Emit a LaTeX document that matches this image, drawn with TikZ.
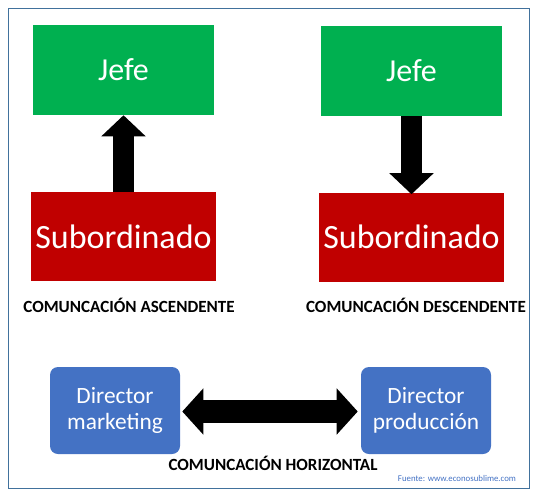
\documentclass[tikz,border=0pt]{standalone}
\usepackage{fontspec}
\setmainfont{Carlito}
\usetikzlibrary{arrows.meta}
\definecolor{jefegreen}{HTML}{00B050}
\definecolor{subred}{HTML}{C00000}
\definecolor{dirblue}{HTML}{4472C4}
\definecolor{framecol}{HTML}{41719C}
\newdimen\pxu \pxu=0.75pt

\begin{document}
\begin{tikzpicture}[x=0.75pt,y=-0.75pt,
  jefebox/.style={fill=jefegreen,text=white,minimum width=181\pxu,minimum height=90\pxu,font=\fontsize{24}{28}\selectfont},
  subbox/.style={fill=subred,text=white,minimum width=181\pxu,minimum height=89\pxu,font=\fontsize{25.5}{30}\selectfont},
  dirbox/.style={fill=dirblue,text=white,rounded corners=8\pxu,minimum width=130\pxu,minimum height=87\pxu,align=center,font=\fontsize{17.5}{20}\selectfont},
  caption/.style={font=\bfseries\fontsize{12.8}{15}\selectfont},
  flow/.style={line width=15.75pt,-{Triangle[width=32.25pt,length=15.75pt]}}]
				\useasboundingbox (0,0) rectangle (541,496);
				\draw[framecol,line width=0.75pt] (8,8) rectangle (529,488);
				
				\node[jefebox] (jefeA) at (123.5,70) {Jefe};
				\node[subbox] (subA) at (123.5,236.5) {Subordinado};
				\draw[flow] (subA.north) -- (jefeA.south);
				\node[caption] (capA) at (129,305) {COMUNCACIÓN ASCENDENTE};
				
				\node[jefebox] (jefeB) at (411.5,71) {Jefe};
				\node[subbox] (subB) at (411.5,237) {Subordinado};
				\draw[flow] (jefeB.south) -- ([yshift=-1.5pt]subB.north);
				\node[caption] (capB) at (416,305) {COMUNCACIÓN DESCENDENTE};
				
				\node[dirbox] (dirM) at (115,410.5) {Director\\marketing};
				\node[dirbox] (dirP) at (426,410.5) {Director\\producción};
				\draw[line width=17.25pt,{Triangle[width=33.75pt,length=15.75pt]}-{Triangle[width=33.75pt,length=15.75pt]}]
					([xshift=1.5pt,yshift=-0.75pt]dirM.east) -- ([xshift=-2.25pt,yshift=-0.75pt]dirP.west);
				\node[caption] (capC) at (273,463) {COMUNCACIÓN HORIZONTAL};
				
				\node[text=dirblue,font=\fontsize{6.6}{8}\selectfont] (fuente) at (457,478) {Fuente: www.econosublime.com};
			\end{tikzpicture}
\end{document}
